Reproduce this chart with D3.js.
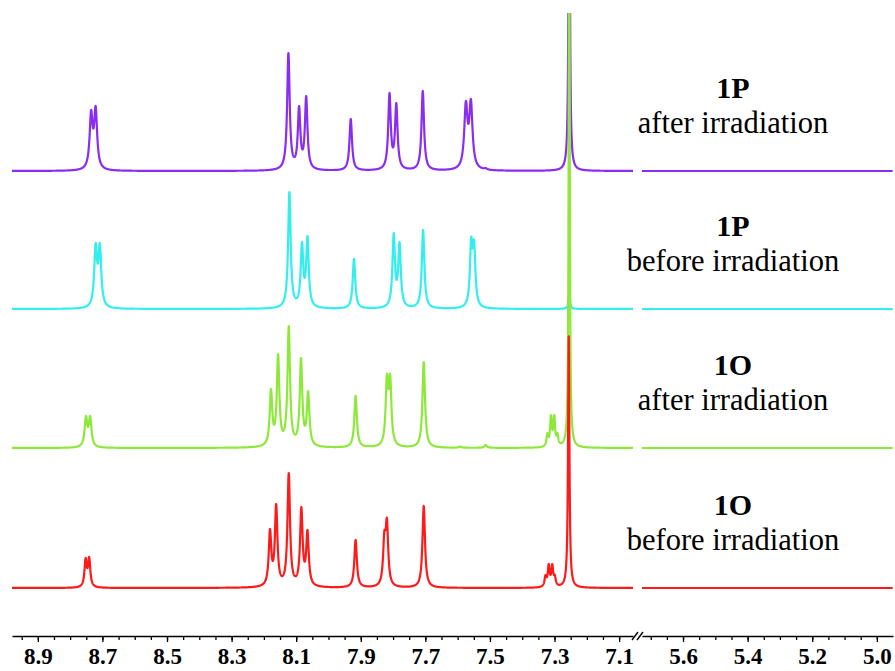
<!DOCTYPE html>
<html>
<head>
<meta charset="utf-8">
<script src="https://cdn.jsdelivr.net/npm/d3@7"></script>
<style>
  html, body { margin: 0; padding: 0; background: #fff; }
  svg { display: block; }
</style>
</head>
<body>
<svg id="chart" width="895" height="671"></svg>
<script>
// ---------------- DATA ----------------
// chemical-shift domains of the two axis segments (ppm)
const leftDomain = [8.98, 7.057];
const rightDomain = [5.727, 4.95];

// tick labels
const leftTickLabels = ["8.9", "8.7", "8.5", "8.3", "8.1", "7.9", "7.7", "7.5", "7.3", "7.1"];
const rightTickLabels = ["5.6", "5.4", "5.2", "5.0"];

// series names and captions (top to bottom)
const seriesNames = ["1P", "1P", "1O", "1O"];
const seriesCaptions = ["after irradiation", "before irradiation", "after irradiation", "before irradiation"];

// peak lists: [shift ppm, observed peak height, optional half-width ppm]
const peaks1PAfter = [
  [8.735, 61, 0.0055], [8.721, 65, 0.0055],
  [8.124, 118], [8.091, 65], [8.069, 75],
  [7.931, 52],
  [7.811, 78], [7.790, 68],
  [7.708, 80],
  [7.5745, 70, 0.006], [7.559, 72, 0.006],
  [7.513, 3],
  [7.2545, 420, 0.0022]
];
const peaks1PBefore = [
  [8.721, 66, 0.0052], [8.708, 66, 0.0052],
  [8.121, 117], [8.082, 67], [8.065, 73],
  [7.921, 50],
  [7.798, 76], [7.780, 67],
  [7.707, 79],
  [7.558, 72], [7.549, 69],
  [7.2545, 14, 0.003]
];
const peaks1OAfter = [
  [8.751, 32, 0.005], [8.738, 32, 0.005],
  [8.178, 59], [8.156, 94], [8.123, 122], [8.085, 90], [8.063, 57],
  [7.916, 52],
  [7.877, 2],
  [7.819, 74], [7.809, 74],
  [7.705, 86],
  [7.592, 1.5],
  [7.513, 3],
  [7.322, 15, 0.0032], [7.311, 33, 0.0032], [7.301, 33, 0.0032], [7.291, 15, 0.0032],
  [7.2545, 600, 0.0018]
];
const peaks1OBefore = [
  [8.752, 30, 0.0042], [8.741, 31, 0.0042],
  [8.181, 59], [8.162, 84], [8.123, 115], [8.084, 81], [8.065, 58],
  [7.916, 48],
  [7.827, 57], [7.819, 70],
  [7.705, 82],
  [7.328, 13, 0.0035], [7.318, 24, 0.0035], [7.307, 24, 0.0035], [7.299, 13, 0.0035],
  [7.256, 252, 0.0025]
];
const seriesPeaks = [peaks1PAfter, peaks1PBefore, peaks1OAfter, peaks1OBefore];

// ---------------- STYLE / LAYOUT ----------------
const colors = ["#8a2cf2", "#33eeee", "#8ee83a", "#ff1a1a"];
const baselines = [171, 309, 448, 588];
const defaultWidth = 0.0047;
const axisY = 636;
const serif = "'Liberation Serif', 'Times New Roman', Times, serif";

const svg = d3.select("#chart");

const xLeft = d3.scaleLinear().domain(leftDomain).range([12, 633]);
const xRight = d3.scaleLinear().domain(rightDomain).range([642, 893]);

// Lorentzian line shape
function lor(x, x0, w) { return (w * w) / (w * w + (x - x0) * (x - x0)); }

// solve amplitudes so that the summed spectrum has the observed heights at peak positions
function solveAmplitudes(peaks) {
  const n = peaks.length;
  const M = peaks.map(pi => peaks.map(pj => lor(pi[0], pj[0], pj[2] || defaultWidth)));
  const b = peaks.map(p => p[1]);
  for (let c = 0; c < n; c++) {
    let piv = c;
    for (let r = c + 1; r < n; r++) if (Math.abs(M[r][c]) > Math.abs(M[piv][c])) piv = r;
    [M[c], M[piv]] = [M[piv], M[c]]; [b[c], b[piv]] = [b[piv], b[c]];
    for (let r = c + 1; r < n; r++) {
      const f = M[r][c] / M[c][c];
      for (let k = c; k < n; k++) M[r][k] -= f * M[c][k];
      b[r] -= f * b[c];
    }
  }
  const a = new Array(n).fill(0);
  for (let r = n - 1; r >= 0; r--) {
    let s = b[r];
    for (let k = r + 1; k < n; k++) s -= M[r][k] * a[k];
    a[r] = s / M[r][r];
  }
  return a.map(v => Math.max(0, v));
}

function spectrum(peaks, amps, from, to, step) {
  const pts = [];
  for (let x = from; x >= to - 1e-9; x -= step) {
    let y = 0;
    peaks.forEach((p, i) => { y += amps[i] * lor(x, p[0], p[2] || defaultWidth); });
    pts.push([x, y]);
  }
  return pts;
}

// clip for spectra
svg.append("defs").append("clipPath").attr("id", "plotClip")
  .append("rect").attr("x", 0).attr("y", 13).attr("width", 895).attr("height", 620);

const plot = svg.append("g").attr("clip-path", "url(#plotClip)");

seriesPeaks.forEach((peaks, si) => {
  const amps = solveAmplitudes(peaks);
  const y = d3.scaleLinear().domain([0, 100]).range([baselines[si], baselines[si] - 100]);
  const leftPts = spectrum(peaks, amps, leftDomain[0], leftDomain[1], 0.0003);
  const rightPts = spectrum(peaks, amps, rightDomain[0], rightDomain[1], 0.002);
  const lineL = d3.line().x(d => xLeft(d[0])).y(d => y(d[1]));
  const lineR = d3.line().x(d => xRight(d[0])).y(d => y(d[1]));
  plot.append("path").attr("d", lineL(leftPts))
    .attr("fill", "none").attr("stroke", colors[si]).attr("stroke-width", 2.2)
    .attr("stroke-linejoin", "round");
  plot.append("path").attr("d", lineR(rightPts))
    .attr("fill", "none").attr("stroke", colors[si]).attr("stroke-width", 2.2);

  // captions
  svg.append("text").attr("x", 733).attr("y", baselines[si] - 73)
    .attr("text-anchor", "middle").attr("font-family", serif)
    .attr("font-weight", "bold").attr("font-size", 30)
    .text(seriesNames[si]);
  svg.append("text").attr("x", 733).attr("y", baselines[si] - 38)
    .attr("text-anchor", "middle").attr("font-family", serif)
    .attr("font-size", 30.5)
    .text(seriesCaptions[si]);
});

// ---------------- AXIS ----------------
const leftMinor = d3.range(142, 180).map(k => k * 0.05).filter(v => v <= leftDomain[0] && v >= leftDomain[1]);
const rightMinor = d3.range(100, 115).map(k => k * 0.05).filter(v => v <= rightDomain[0] && v >= rightDomain[1]);
const leftMajorVals = leftTickLabels.map(Number);
const rightMajorVals = rightTickLabels.map(Number);

function drawAxis(scale, minorVals, majorVals, labels) {
  const gMinor = svg.append("g").attr("transform", `translate(0,${axisY})`)
    .call(d3.axisBottom(scale).tickValues(minorVals).tickSize(4).tickSizeOuter(0).tickFormat(""));
  gMinor.select(".domain").attr("stroke", "#000").attr("stroke-width", 1.6);
  gMinor.selectAll(".tick line").attr("stroke", "#000").attr("stroke-width", 1.3);
  const gMajor = svg.append("g").attr("transform", `translate(0,${axisY})`)
    .call(d3.axisBottom(scale).tickValues(majorVals).tickSize(6).tickSizeOuter(0).tickPadding(6)
      .tickFormat((d, i) => labels[i]));
  gMajor.select(".domain").remove();
  gMajor.selectAll(".tick line").attr("stroke", "#000").attr("stroke-width", 1.3);
  gMajor.selectAll(".tick text")
    .attr("font-family", serif).attr("font-weight", "bold").attr("font-size", 23).attr("fill", "#000");
}
drawAxis(xLeft, leftMinor, leftMajorVals, leftTickLabels);
drawAxis(xRight, rightMinor, rightMajorVals, rightTickLabels);

// axis break marks
[632, 637].forEach(x0 => {
  svg.append("line").attr("x1", x0).attr("y1", axisY + 4).attr("x2", x0 + 6).attr("y2", axisY - 4)
    .attr("stroke", "#000").attr("stroke-width", 1.4);
});
</script>
</body>
</html>
